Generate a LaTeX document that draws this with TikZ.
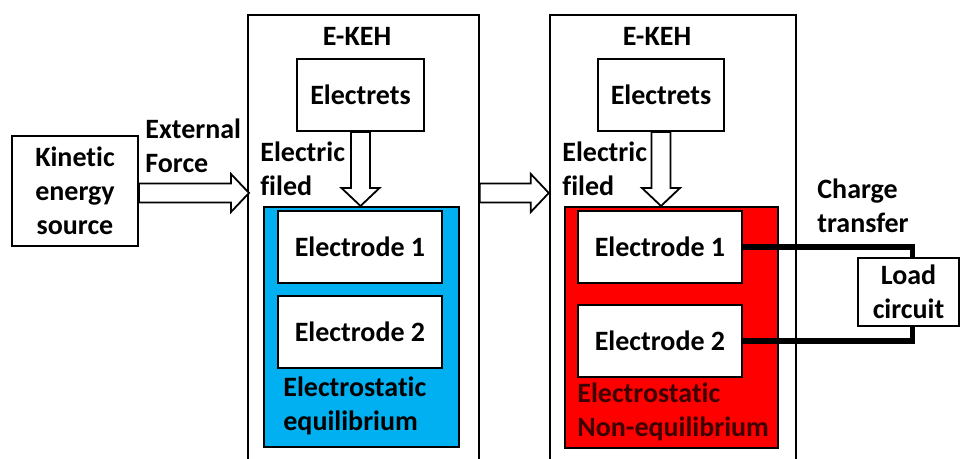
\documentclass[tikz,border=0pt]{standalone}
\usepackage{fontspec}
\setmainfont{Carlito}[Ligatures=NoCommon]

\definecolor{ekehblue}{RGB}{0,176,240}
\definecolor{ekehred}{RGB}{255,0,0}
\definecolor{darktext}{RGB}{60,0,0}

\tikzset{
  box/.style={draw, line width=1pt, fill=white, inner sep=0pt},
  outerbox/.style={draw, line width=0.8pt, inner sep=0pt},
  txt/.style={font=\fontsize{14}{17}\selectfont\bfseries, align=left, inner sep=0pt},
  wire/.style={line width=2.8pt},
  % hollow block arrow, pointing along x, length #1
  pics/blockarrow/.style={code={
    \draw[line width=0.9pt, fill=white] (0,-9.5) -- (#1-18,-9.5) -- (#1-18,-19)
      -- (#1,0) -- (#1-18,19) -- (#1-18,9.5) -- (0,9.5) -- cycle;
  }}
}

\begin{document}
\begin{tikzpicture}[x=0.5pt, y=-0.5pt]

    % --- Frame ---
    \clip (0, 0) rectangle (960, 459);

    % --- Source ---
    \node[box, txt, align=center, minimum width=63pt, minimum height=55pt] (kin) at (75, 191)
      {Kinetic\\energy\\source};
    \node[txt, anchor=west] (force) at (145, 146) {External\\Force};

    % --- First E-KEH stage (equilibrium) ---
    \node[outerbox, minimum width=115.5pt, minimum height=227.5pt] (keh1) at (363.5, 242.5) {};
    \node[txt] (title1) at (357, 36) {E-KEH};
    \node[box, txt, minimum width=63.5pt, minimum height=36pt] (ets1) at (360.5, 95) {Electrets};
    \node[box, fill=ekehblue, minimum width=97.5pt, minimum height=120pt] (eq1) at (361.5, 327) {};
    \node[box, txt, minimum width=82pt, minimum height=36pt] (ela1) at (360, 247) {Electrode 1};
    \node[box, txt, minimum width=82pt, minimum height=36pt] (elb1) at (360, 332) {Electrode 2};
    \node[txt, anchor=west] (state1) at (283, 406) {Electrostatic\\equilibrium};
    \node[txt, anchor=west] (field1) at (260, 169) {Electric\\filed};

    % --- Second E-KEH stage (non-equilibrium) ---
    \node[outerbox, minimum width=123pt, minimum height=227.5pt] (keh2) at (673, 242.5) {};
    \node[txt] (title2) at (657, 36) {E-KEH};
    \node[box, txt, minimum width=63pt, minimum height=36pt] (ets2) at (661, 95) {Electrets};
    \node[box, fill=ekehred, minimum width=106.5pt, minimum height=120.5pt] (eq2) at (671.5, 327.5) {};
    \node[box, txt, minimum width=82pt, minimum height=36pt] (ela2) at (660, 247) {Electrode 1};
    \node[box, txt, minimum width=82pt, minimum height=36pt] (elb2) at (660, 341) {Electrode 2};
    \node[txt, anchor=west, text=darktext] (state2) at (577, 412) {Electrostatic\\Non-equilibrium};
    \node[txt, anchor=west] (field2) at (562, 169) {Electric\\filed};

    % --- Load side ---
    \node[txt, anchor=west] (charge) at (817, 206) {Charge\\transfer};
    \node[box, txt, align=center, minimum width=50.5pt, minimum height=34pt] (load) at (908.5, 292)
      {Load\\circuit};

    % --- Block arrows ---
    \coordinate (pushstart) at ([yshift=-1pt]kin.east);
    \pic at (pushstart) {blockarrow=110};
    \pic at (keh1.east |- pushstart) {blockarrow=69};
    \pic[rotate=-90] at (ets1.south) {blockarrow=74};
    \pic[rotate=-90] at (ets2.south) {blockarrow=74};

    % --- Wires to the load ---
    \draw[wire] (ela2.east) -| ([xshift=2pt]load.north);
    \draw[wire] (elb2.east) -| ([xshift=2pt]load.south);

\end{tikzpicture}
\end{document}
